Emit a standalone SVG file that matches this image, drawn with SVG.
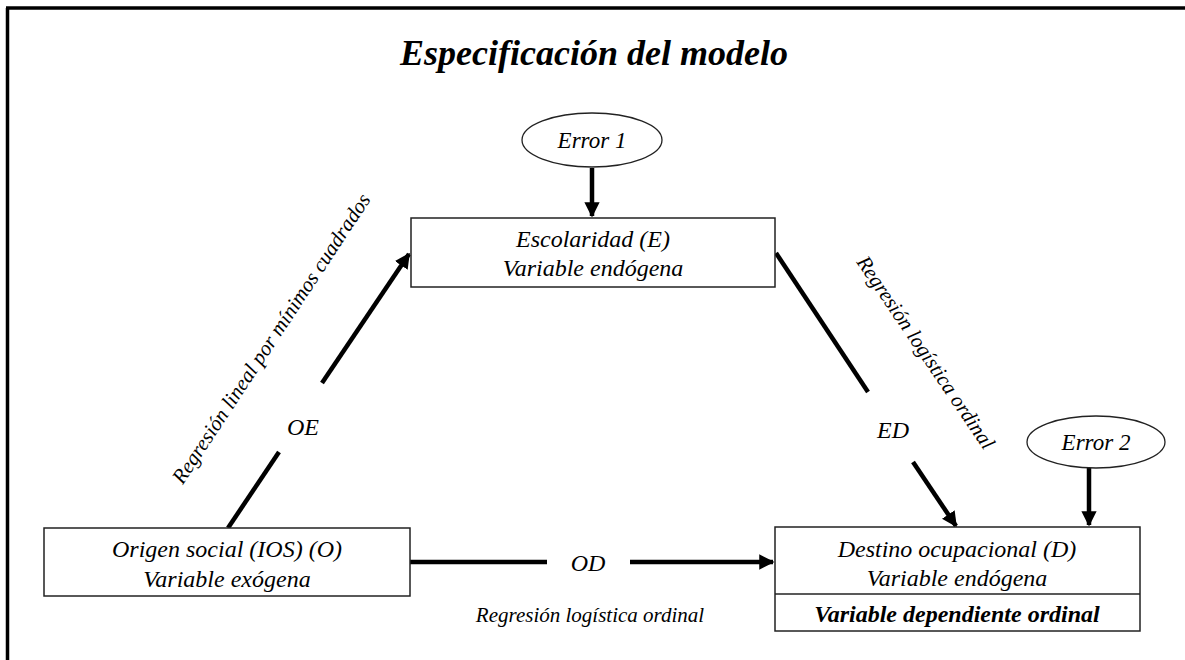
<svg xmlns="http://www.w3.org/2000/svg" width="1185" height="660" viewBox="0 0 1185 660">
<defs>
<style>
.t{font-family:"Liberation Serif","Times New Roman",serif;font-style:italic;fill:#000}
.box{fill:#fff;stroke:#222;stroke-width:1.5}
.ell{fill:#fff;stroke:#222;stroke-width:1.3}
.c{stroke:#000;stroke-width:4.5;fill:none}
</style>
<marker id="ah" viewBox="0 0 10 10" refX="9" refY="5" markerWidth="3.4" markerHeight="3.4" markerUnits="strokeWidth" orient="auto">
<path d="M0,0 L10,5 L0,10 z" fill="#000"/>
</marker>
</defs>
<rect width="1185" height="660" fill="#fff"/>
<g id="frame">
<line x1="7.5" y1="8" x2="7.5" y2="660" stroke="#000" stroke-width="3.5"/>
<line x1="6" y1="8" x2="1185" y2="8" stroke="#000" stroke-width="3.5"/>
</g>
<text id="title" class="t" x="594" y="65" text-anchor="middle" font-size="36" font-weight="bold">Especificación del modelo</text>
<g id="connectors">
<line class="c" x1="592" y1="168" x2="592" y2="216" marker-end="url(#ah)"/>
<line class="c" x1="1089" y1="468" x2="1089" y2="525" marker-end="url(#ah)"/>
<line class="c" x1="228" y1="528" x2="279" y2="452"/>
<line class="c" x1="322" y1="383" x2="409" y2="254" marker-end="url(#ah)"/>
<line class="c" x1="776" y1="253" x2="868" y2="392"/>
<line class="c" x1="913" y1="462" x2="956" y2="526" marker-end="url(#ah)"/>
<line class="c" x1="410" y1="562" x2="547" y2="562"/>
<line class="c" x1="630" y1="562" x2="773" y2="562" marker-end="url(#ah)"/>
<text class="t" x="303" y="435" text-anchor="middle" font-size="24">OE</text>
<text class="t" x="893" y="438" text-anchor="middle" font-size="24">ED</text>
<text class="t" x="588" y="571" text-anchor="middle" font-size="24">OD</text>
<text class="t" font-size="21" text-anchor="middle" transform="translate(272,339) rotate(-56.6)" y="6">Regresión lineal por mínimos cuadrados</text>
<text class="t" font-size="21" text-anchor="middle" transform="translate(925,353) rotate(55.8)" y="6">Regresión logística ordinal</text>
<text class="t" font-size="21" text-anchor="middle" x="590" y="622">Regresión logística ordinal</text>
</g>
<g id="error1">
<ellipse class="ell" cx="592" cy="140" rx="70" ry="27"/>
<text class="t" x="592" y="148" text-anchor="middle" font-size="23">Error 1</text>
</g>
<g id="error2">
<ellipse class="ell" cx="1096" cy="442" rx="69" ry="26"/>
<text class="t" x="1096" y="450" text-anchor="middle" font-size="23">Error 2</text>
</g>
<g id="escolaridad">
<rect class="box" x="411" y="218" width="364" height="69"/>
<text class="t" x="593" y="247" text-anchor="middle" font-size="24">Escolaridad (E)</text>
<text class="t" x="593" y="276" text-anchor="middle" font-size="24">Variable endógena</text>
</g>
<g id="origen">
<rect class="box" x="44" y="528" width="366" height="68"/>
<text class="t" x="227" y="557" text-anchor="middle" font-size="24">Origen social (IOS) (O)</text>
<text class="t" x="227" y="587" text-anchor="middle" font-size="24">Variable exógena</text>
</g>
<g id="destino">
<rect class="box" x="775" y="527" width="365" height="104"/>
<line x1="775" y1="594" x2="1140" y2="594" stroke="#222" stroke-width="1.5"/>
<text class="t" x="957" y="557" text-anchor="middle" font-size="24">Destino ocupacional (D)</text>
<text class="t" x="957" y="586" text-anchor="middle" font-size="24">Variable endógena</text>
<text class="t" x="957" y="622" text-anchor="middle" font-size="24" font-weight="bold">Variable dependiente ordinal</text>
</g>
</svg>
